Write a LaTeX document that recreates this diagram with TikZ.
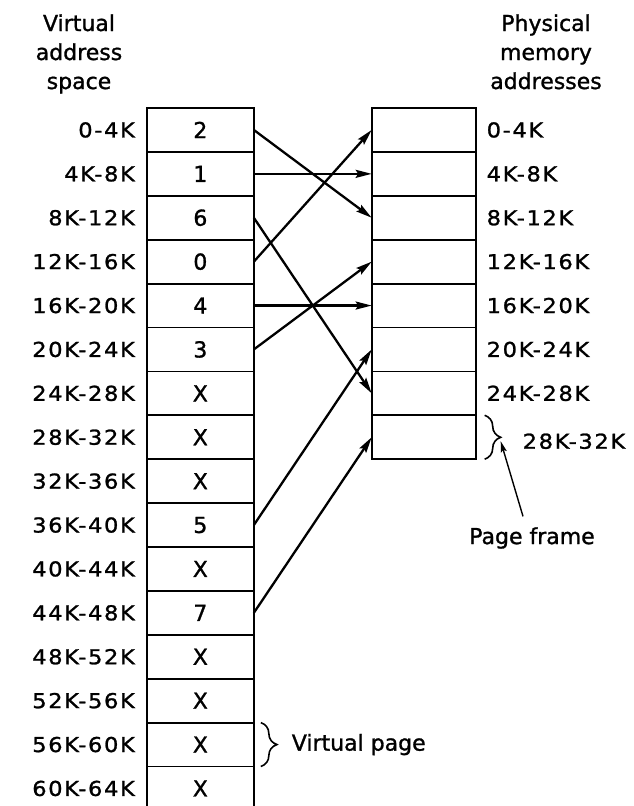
\documentclass[tikz,border=0pt]{standalone}
\usepackage{fontspec}
\setmainfont{DejaVu Sans}[FakeBold=1.2]
\newfontfamily\addrfont{DejaVu Sans}[FakeStretch=1.1, LetterSpace=8, FakeBold=1.2]
\usetikzlibrary{arrows.meta,positioning,decorations.pathreplacing}

\begin{document}
\begin{tikzpicture}[x=1pt, y=-1pt, node distance=0pt,
      every node/.style={font=\fontsize{22}{29}\selectfont, inner sep=0pt, outer sep=0pt},
      cell/.style={draw, line width=1.8pt, minimum width=107pt, minimum height=43.9pt},
      frame/.style={cell, minimum width=104pt},
      addr/.style={font=\addrfont\fontsize{20.5}{24}\selectfont},
      head/.style={align=center, anchor=north},
      map/.style={->, line width=2.3pt},
      pagebrace/.style={line width=1.6pt, decorate, decoration={brace, amplitude=16pt}},
      >={Stealth[length=16pt, width=8pt, inset=2.5pt]}]
    \useasboundingbox (0,0) rectangle (634,806);
    \node[head] (vhead) at (79,14.3) {Virtual\\address\\space};
    \node[head] (phead) at (546,14.3) {Physical\\memory\\addresses};
    % virtual pages
    \foreach \pg [count=\i from 0] in {2,1,6,0,4,3,X,X,X,5,X,7,X,X,X,X} {
      \pgfmathtruncatemacro\lo{4*\i} \pgfmathtruncatemacro\hi{4*\i+4}
      \node[cell] (v\i) at (200.35,129.95+43.9*\i) {\pg};
      \node[addr, left=12pt of v\i] (vl\i) {\ifnum\i=0 0\else\lo K\fi-\hi K};
    }
    % page frames
    \foreach \i in {0,...,7} \node[frame] (p\i) at (423.7,129.95+43.9*\i) {};
    \foreach \i in {0,...,6} {
      \pgfmathtruncatemacro\lo{4*\i} \pgfmathtruncatemacro\hi{4*\i+4}
      \node[addr, right=11pt of p\i] (pl\i) {\ifnum\i=0 0\else\lo K\fi-\hi K};
    }
    \foreach \v/\p in {0/2,1/1,2/6,3/0,4/4,5/3,9/5,11/7} \draw[map] (v\v.east) -- (p\p.west);
    % braces
    \draw[pagebrace] ([xshift=9pt]p7.north east) -- ([xshift=9pt]p7.south east);
    \coordinate (b7) at ([xshift=25pt]p7.east);
    \node[addr, right=22pt of b7, yshift=-4pt] (pl7) {28K-32K};
    \node (pf) at (532,538) {Page frame};
    \draw[->, line width=1.4pt, >={Stealth[length=11pt, width=6pt, inset=2pt]}] ([xshift=-9pt, yshift=11pt]pf.north) -- ([yshift=-4pt]b7);
    \draw[pagebrace] ([xshift=7pt]v14.north east) -- ([xshift=7pt]v14.south east);
    \coordinate (b14) at ([xshift=23pt]v14.east);
    \node[right=15pt of b14] (vp) {Virtual page};
  \end{tikzpicture}
\end{document}
